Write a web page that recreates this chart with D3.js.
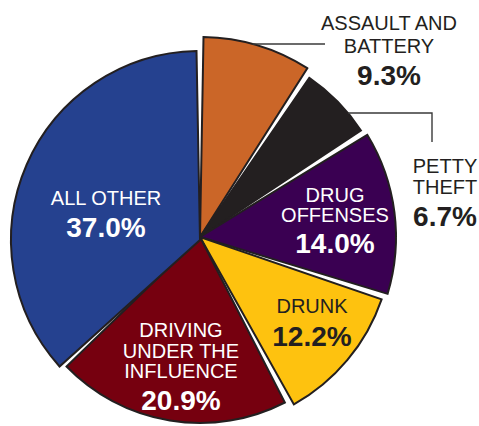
<!DOCTYPE html>
<html>
<head>
<meta charset="utf-8">
<script src="https://cdn.jsdelivr.net/npm/d3@7/dist/d3.min.js"></script>
<style>
  html, body { margin: 0; padding: 0; background: #fff; }
  svg { display: block; font-family: "Liberation Sans", Arial, sans-serif; }
</style>
</head>
<body>
<svg id="chart" width="479" height="426"></svg>
<script>
// ---- data ----
const categories = ["ASSAULT AND BATTERY", "PETTY THEFT", "DRUG OFFENSES", "DRUNK", "DRIVING UNDER THE INFLUENCE", "ALL OTHER"];
const values = [9.3, 6.7, 14.0, 12.2, 20.9, 37.0];
const nameLines = [["ASSAULT AND", "BATTERY"], ["PETTY", "THEFT"], ["DRUG", "OFFENSES"], ["DRUNK"], ["DRIVING", "UNDER THE", "INFLUENCE"], ["ALL OTHER"]];
const pctLabels = ["9.3%", "6.7%", "14.0%", "12.2%", "20.9%", "37.0%"];

// ---- style / layout ----
const colors = ["#cb6628", "#231f20", "#3a0052", "#fec20f", "#76000f", "#25418f"];
const textColors = ["#231f20", "#231f20", "#ffffff", "#231f20", "#ffffff", "#ffffff"];
const outerR = [200, 193, 196, 192, 186, 189];
const shift = [[0, 0], [0, 0], [0, 0], [0, 0], [0, 0], [0, 3]];
const cx = 200, cy = 237;
// label anchors: x centre, name baselines, percent baseline
const labelPos = [
  { x: 389, lines: [30, 53], pct: 85 },
  { x: 445, lines: [173, 194], pct: 226 },
  { x: 335, lines: [202, 222], pct: 253 },
  { x: 312, lines: [313], pct: 346 },
  { x: 181, lines: [337, 358, 378], pct: 410 },
  { x: 106, lines: [205], pct: 237 }
];

const svg = d3.select("#chart");

const pie = d3.pie().sort(null).value(d => d);
const arcs = pie(values);

const arc = d3.arc()
  .innerRadius(0)
  .padAngle(7 / 190)
  .padRadius(190);

const g = svg.append("g").attr("transform", `translate(${cx},${cy})`);

g.selectAll("path.slice")
  .data(arcs)
  .join("path")
  .attr("class", "slice")
  .attr("transform", (d, i) => `translate(${shift[i][0]},${shift[i][1]})`)
  .attr("d", (d, i) => arc.outerRadius(outerR[i])(d))
  .attr("fill", (d, i) => colors[i])
  .attr("stroke", "#231f20")
  .attr("stroke-width", 2)
  .attr("stroke-linejoin", "miter");

// ---- leader lines ----
function arcX(i, y) {
  const dy = y - cy;
  return cx + Math.sqrt(outerR[i] * outerR[i] - dy * dy);
}
const leader = svg.append("g")
  .attr("fill", "none")
  .attr("stroke", "#3a3a3a")
  .attr("stroke-width", 1.4);

leader.append("path")
  .attr("d", d3.line()([[arcX(0, 44), 44], [325, 44]]));
leader.append("path")
  .attr("d", d3.line()([[arcX(1, 113), 113], [432, 113], [432, 142]]));

// ---- labels ----
const labels = svg.append("g").attr("text-anchor", "middle");
labelPos.forEach((p, i) => {
  nameLines[i].forEach((t, k) => {
    labels.append("text")
      .attr("x", p.x)
      .attr("y", p.lines[k])
      .attr("fill", textColors[i])
      .attr("font-size", 20)
      .text(t);
  });
  labels.append("text")
    .attr("x", p.x)
    .attr("y", p.pct)
    .attr("fill", textColors[i])
    .attr("font-size", 28)
    .attr("font-weight", "bold")
    .text(pctLabels[i]);
});
</script>
</body>
</html>
